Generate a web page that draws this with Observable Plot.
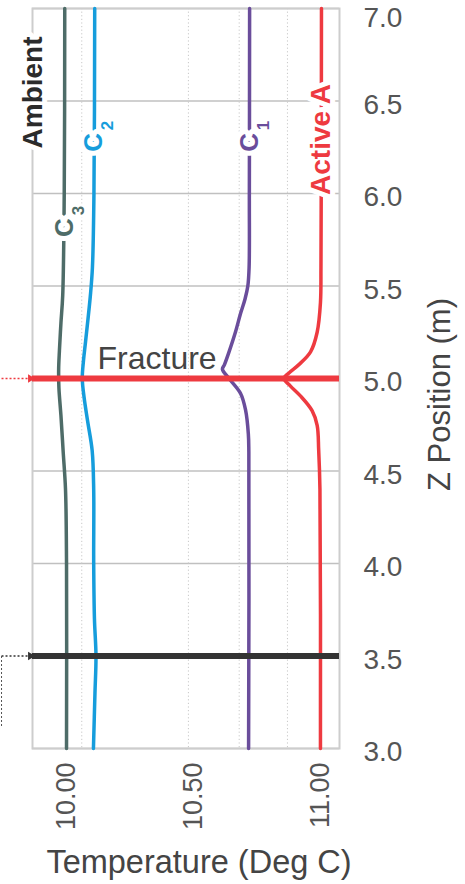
<!DOCTYPE html>
<html>
<head>
<meta charset="utf-8">
<script src="https://cdn.jsdelivr.net/npm/d3@7"></script>
<script src="https://cdn.jsdelivr.net/npm/@observablehq/plot@0.6"></script>
<style>
  html, body { margin: 0; padding: 0; background: #fff; }
  #chart svg { display: block; }
</style>
</head>
<body>
<div id="chart"></div>
<script>
// ---------- data ----------
const zTicks = [3.0, 3.5, 4.0, 4.5, 5.0, 5.5, 6.0, 6.5, 7.0];
const tempTicks = [10.0, 10.5, 11.0];
const tempGrid = [10.06, 10.48, 10.68, 10.87];

const seriesNames = ["C3", "C2", "C1", "Active A"];
const seriesColors = ["#4e6c68", "#169ddc", "#6a4d9b", "#ee3a40"];

const c3Z = [7.0, 6.0, 5.45, 5.3, 5.15, 5.05, 4.95, 4.8, 4.6, 4.4, 4.0, 3.0];
const c3T = [9.993, 9.991, 9.985, 9.978, 9.972, 9.969, 9.970, 9.978, 9.987, 9.996, 10.0, 10.0];

const c2Z = [7.0, 6.0, 5.6, 5.45, 5.2, 5.1, 5.0, 4.9, 4.77, 4.61, 4.4, 4.0, 3.7, 3.5, 3.3, 3.0];
const c2T = [10.111, 10.108, 10.102, 10.094, 10.075, 10.067, 10.062, 10.069, 10.083, 10.101, 10.107, 10.107, 10.110, 10.116, 10.112, 10.106];

const c1Z = [7.0, 6.0, 5.6, 5.5, 5.43, 5.35, 5.25, 5.14, 5.075, 5.05, 5.0, 4.92, 4.83, 4.7, 4.6, 3.0];
const c1T = [10.721, 10.720, 10.719, 10.714, 10.703, 10.685, 10.665, 10.639, 10.622, 10.614, 10.640, 10.685, 10.705, 10.716, 10.718, 10.717];

const activeZ = [7.0, 6.0, 5.6, 5.41, 5.25, 5.144, 5.075, 5.029, 5.0, 4.959, 4.906, 4.826, 4.747, 4.614, 4.4, 3.0];
const activeT = [11.004, 11.003, 11.002, 11.0, 10.987, 10.961, 10.915, 10.875, 10.856, 10.882, 10.921, 10.967, 10.987, 10.993, 10.998, 11.0];

// horizontal features
const fractureZ = 5.0;
const sealZ = 3.5;
const feedT = 9.744;          // origin of the feed arrows (left of frame)
const feedPipeBottomZ = 3.12; // dotted feed pipe lower end

// curve labels
const labelSeries = ["C3", "C2", "C1"];
const labelSubs = ["3", "2", "1"];
const labelT = [9.991, 10.106, 10.72];
const labelZ = [5.816, 6.276, 6.276];

const ambientT = 9.867, ambientZ = 6.546;
const activeLabelT = 11.002, activeLabelZ = 6.292;
const fractureLabelT = 10.122;

// ---------- build tables ----------
const rows = [];
[[seriesNames[0], c3Z, c3T], [seriesNames[1], c2Z, c2T], [seriesNames[2], c1Z, c1T], [seriesNames[3], activeZ, activeT]]
  .forEach(([name, zs, ts]) => zs.forEach((z, i) => rows.push({series: name, z, t: ts[i]})));

const colorOf = Object.fromEntries(seriesNames.map((s, i) => [s, seriesColors[i]]));
const labels = labelSeries.map((s, i) => ({series: s, sub: labelSubs[i], t: labelT[i], z: labelZ[i]}));

const FONT = "'Liberation Sans', Arial, Helvetica, sans-serif";
const yTickStyle = {anchor: "right", tickSize: 0, tickPadding: 24, tickFormat: d3.format(".1f"), fontSize: 28, fill: "#555", label: null};

const chart = Plot.plot({
  width: 465,
  height: 884,
  marginLeft: 32,
  marginRight: 126,
  marginTop: 8,
  marginBottom: 136,
  style: {fontFamily: FONT, background: "#fff", overflow: "visible"},
  x: {domain: [9.866, 11.075], axis: null},
  y: {domain: [3, 7], axis: null},
  color: {domain: seriesNames, range: seriesColors},
  marks: [
    Plot.gridY(zTicks, {stroke: "#c0c0c0", strokeOpacity: 1, strokeWidth: 1.4}),
    Plot.gridX(tempGrid, {stroke: "#c8c8c8", strokeOpacity: 1, strokeWidth: 1, strokeDasharray: "1.2,2.4"}),
    Plot.frame({stroke: "#cdcdcd", strokeWidth: 2}),

    Plot.line(rows, {x: "t", y: "z", z: "series", stroke: "series", strokeWidth: 3.5, curve: "catmull-rom"}),

    // fracture & seal lines
    Plot.ruleY([fractureZ], {stroke: "#ee3a40", strokeWidth: 6}),
    Plot.ruleY([sealZ], {stroke: "#333333", strokeWidth: 6}),

    // feed arrows (left of frame)
    Plot.link([fractureZ], {x1: feedT, x2: 9.856, y1: d => d, y2: d => d, stroke: "#ee3a40", strokeWidth: 1.6, strokeDasharray: "2,2"}),
    Plot.dot([fractureZ], {x: 9.858, y: d => d, symbol: "triangle2", rotate: 90, r: 4, fill: "#ee3a40", stroke: "none"}),
    Plot.link([sealZ], {x1: feedT, x2: 9.856, y1: d => d, y2: d => d, stroke: "#333", strokeWidth: 1.6, strokeDasharray: "2,2"}),
    Plot.dot([sealZ], {x: 9.858, y: d => d, symbol: "triangle2", rotate: 90, r: 4, fill: "#333", stroke: "none"}),
    Plot.link([sealZ], {x1: feedT, x2: feedT, y1: d => d, y2: feedPipeBottomZ, stroke: "#555", strokeWidth: 1, strokeDasharray: "2,2"}),

    // axes
    Plot.axisY(zTicks.filter(d => d < 7), {...yTickStyle, dy: 4}),
    Plot.axisY(zTicks.filter(d => d >= 7), {...yTickStyle, dy: 10}),
    Plot.axisX(tempTicks, {anchor: "bottom", tickSize: 0, tickPadding: 14, tickRotate: -90, tickFormat: d3.format(".2f"), fontSize: 27, fill: "#555", label: null}),
    Plot.text(["Temperature (Deg C)"], {frameAnchor: "bottom", text: d => d, textAnchor: "middle", dx: 13, dy: 114, lineAnchor: "middle", fontSize: 32.5, fill: "#444"}),
    Plot.text(["Z Position (m)"], {frameAnchor: "right", text: d => d, rotate: -90, textAnchor: "middle", dx: 101, dy: 16, lineAnchor: "middle", fontSize: 31, fill: "#444"}),

    // curve labels
    Plot.text(labels, {x: "t", y: "z", text: () => "C", rotate: -90, fontSize: 26, fontWeight: "bold", fill: d => colorOf[d.series], stroke: "white", strokeWidth: 10, lineAnchor: "middle"}),
    Plot.text(labels, {x: "t", y: "z", text: "sub", rotate: -90, dx: 14, dy: -17, fontSize: 17, fontWeight: "bold", fill: d => colorOf[d.series], stroke: "white", strokeWidth: 6, lineAnchor: "middle"}),
    Plot.text(["Active A"], {x: activeLabelT, y: activeLabelZ, text: d => d, rotate: -90, fontSize: 28, fontWeight: "bold", fill: "#ee3a40", stroke: "white", strokeWidth: 10, lineAnchor: "middle"}),
    Plot.text(["Ambient"], {x: ambientT, y: ambientZ, text: d => d, rotate: -90, fontSize: 28, fontWeight: "bold", fill: "#2b2b2b", stroke: "white", strokeWidth: 10, lineAnchor: "middle"}),
    Plot.text(["Fracture"], {x: fractureLabelT, y: fractureZ, text: d => d, textAnchor: "start", lineAnchor: "bottom", dy: -10, fontSize: 32, fill: "#444"})
  ]
});

document.getElementById("chart").appendChild(chart);
</script>
</body>
</html>
